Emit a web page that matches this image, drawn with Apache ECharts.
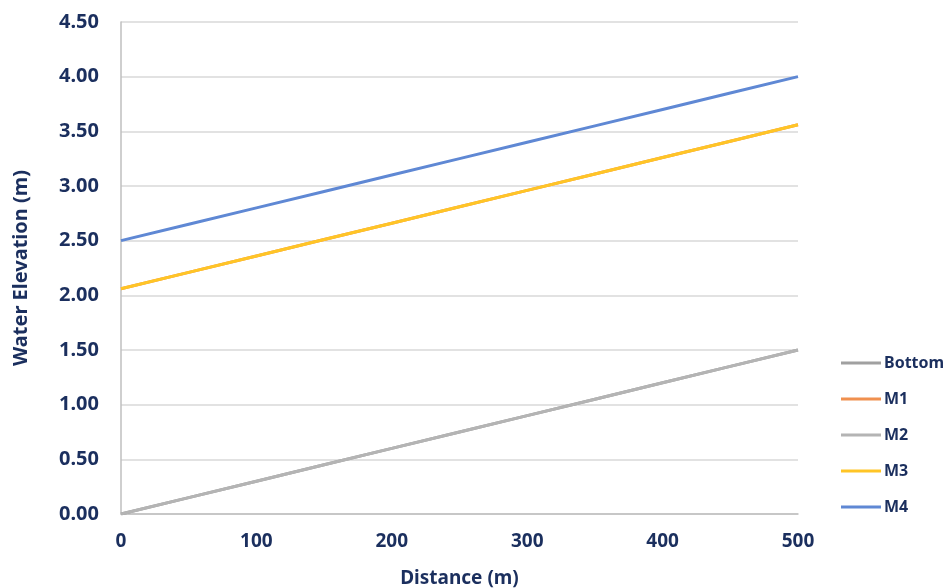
<!DOCTYPE html>
<html>
<head>
<meta charset="utf-8">
<script src="https://cdn.jsdelivr.net/npm/echarts@6/dist/echarts.min.js"></script>
<style>
  html, body { margin: 0; padding: 0; background: #fff; }
  #chart { width: 944px; height: 588px; }
</style>
</head>
<body>
<div id="chart"></div>
<script>
// Distance along the channel (m)
const distance = [0, 50, 100, 150, 200, 250, 300, 350, 400, 450, 500];

// Water elevations (m) per profile
const bottom = [0.00, 0.15, 0.30, 0.45, 0.60, 0.75, 0.90, 1.05, 1.20, 1.35, 1.50];
const m1     = [2.06, 2.21, 2.36, 2.51, 2.66, 2.81, 2.96, 3.11, 3.26, 3.41, 3.56];
const m2     = [0.00, 0.15, 0.30, 0.45, 0.60, 0.75, 0.90, 1.05, 1.20, 1.35, 1.50];
const m3     = [2.06, 2.21, 2.36, 2.51, 2.66, 2.81, 2.96, 3.11, 3.26, 3.41, 3.56];
const m4     = [2.50, 2.65, 2.80, 2.95, 3.10, 3.25, 3.40, 3.55, 3.70, 3.85, 4.00];

const seriesNames = ['Bottom', 'M1', 'M2', 'M3', 'M4'];
const seriesData = [bottom, m1, m2, m3, m4];
const colors = ['#A0A0A0', '#F0904F', '#B4B4B4', '#FFC526', '#5F88D4'];

const navy = '#1B2F5E';
const font = 'Noto Sans';

const chart = echarts.init(document.getElementById('chart'));
chart.setOption({
  animation: false,
  color: colors,
  grid: {
    left: 121, right: 146, top: 22, bottom: 74,
    containLabel: false, outerBoundsMode: 'none'
  },
  legend: {
    orient: 'vertical',
    left: 836,
    top: 350,
    icon: 'rect',
    itemWidth: 40,
    itemHeight: 3,
    itemGap: 20,
    textStyle: {
      color: navy, fontFamily: font, fontWeight: 'bold', fontSize: 16,
      padding: [0, 0, 0, -2]
    },
    data: seriesNames
  },
  xAxis: {
    type: 'value',
    min: 0, max: 500, interval: 100,
    name: 'Distance (m)',
    nameLocation: 'middle',
    nameGap: 55,
    nameTextStyle: { color: navy, fontFamily: font, fontWeight: 'bold', fontSize: 19 },
    axisLine: { show: true, lineStyle: { color: '#BFBFBF', width: 1.5 } },
    axisTick: { show: false },
    splitLine: { show: false },
    axisLabel: { color: navy, fontFamily: font, fontWeight: 'bold', fontSize: 19, margin: 18 }
  },
  yAxis: {
    type: 'value',
    min: 0, max: 4.5, interval: 0.5,
    name: 'Water Elevation (m)',
    nameLocation: 'middle',
    nameGap: 90,
    nameTextStyle: { color: navy, fontFamily: font, fontWeight: 'bold', fontSize: 20 },
    axisLine: { show: true, lineStyle: { color: '#BFBFBF', width: 1.5 } },
    axisTick: { show: false },
    splitLine: { show: true, lineStyle: { color: '#D9D9D9', width: 1.5 } },
    axisLabel: {
      color: navy, fontFamily: font, fontWeight: 'bold', fontSize: 20, margin: 22,
      formatter: v => v.toFixed(2)
    }
  },
  series: seriesNames.map((name, i) => ({
    name,
    type: 'line',
    symbol: 'none',
    lineStyle: { width: 3, color: colors[i] },
    itemStyle: { color: colors[i] },
    data: distance.map((d, j) => [d, seriesData[i][j]])
  }))
});
</script>
</body>
</html>
